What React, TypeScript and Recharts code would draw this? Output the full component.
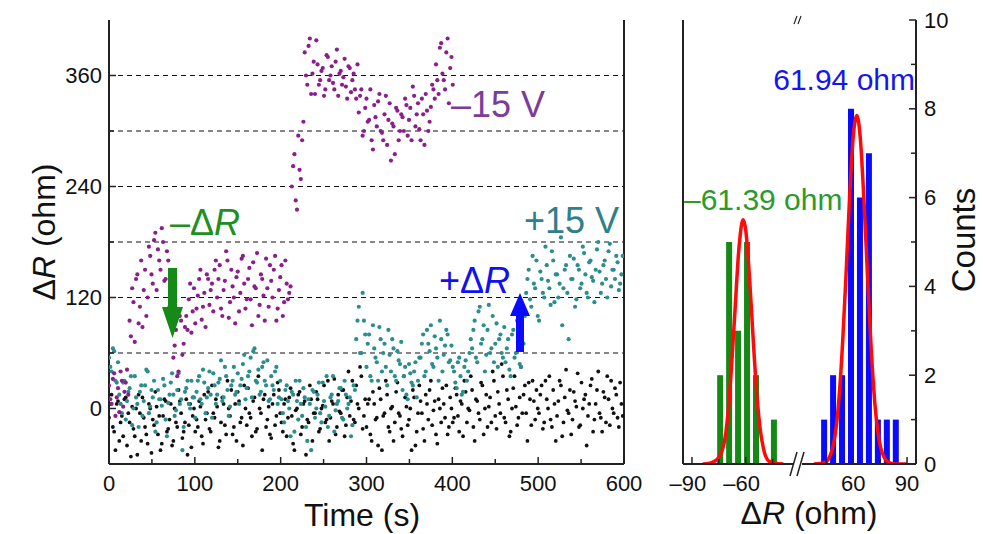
import React from "react";
import {
  Bar,
  Cell,
  ComposedChart,
  Line,
  ReferenceLine,
  Scatter,
  XAxis,
  YAxis,
} from "recharts";

const FONT = '"Liberation Sans", Arial, Helvetica, sans-serif';

// time series, one reading every STEP seconds; the *2 arrays are the readings in between
const STEP = 3;

// -15 V run (0 .. 400 s)
const purpleVals = [
  25, 5, 38, 12, -4, 30, 18, 42,
  95, 130, 72, 145, 110, 88, 150, 120,
  165, 135, 190, 172, 150, 180, 140, 160, 118,
  55, 85, 40, 95, 70,
  100, 118, 82, 130, 108, 140, 96, 125, 145, 112, 135, 150,
  120, 155, 100, 138, 160, 115, 132, 92, 148, 125, 165, 108, 140, 118, 158, 130, 100, 145, 122, 162, 110, 138, 150, 95, 128, 155, 115, 135, 125,
  240, 275, 215, 258, 290,
  385, 350, 400, 362, 340, 372, 355, 368, 345, 380, 360, 352, 375, 338, 365, 358, 348, 370, 342, 362, 335,
  320, 345, 300, 335, 312, 290, 328, 305, 340, 298, 318, 285, 330, 308, 275, 322, 300,
  315, 335, 295, 325, 348, 305, 330, 290, 318, 340, 300, 326, 345,
  372, 340, 395, 355, 385, 330, 380,
];
const purpleVals2 = [
  10, 32, -8, 22, 40, 2, 28, 15,
  78, 115, 140, 92, 160, 128, 100, 175,
  145, 182, 128, 160, 195, 138, 170, 110, 92,
  68, 35, 100, 58, 88,
  85, 135, 105, 92, 122, 150, 110, 88, 140, 128, 105, 160,
  140, 108, 128, 170, 98, 150, 120, 142, 105, 162, 135, 118, 152, 90, 132, 168, 112, 140, 95, 130, 155, 120, 165, 108, 142, 100, 160, 118, 132,
  262, 225, 295, 248, 310,
  360, 392, 340, 375, 398, 350, 365, 338, 382, 355, 370, 345, 388, 362, 350, 378, 335, 368, 355, 345, 372,
  338, 295, 325, 310, 345, 280, 315, 332, 300, 290, 338, 312, 268, 305, 325, 290, 318,
  300, 328, 312, 290, 338, 318, 302, 335, 285, 322, 310, 350, 335,
  355, 390, 362, 345, 400, 368, 350,
];

// +15 V run (0 .. 600 s)
const tealVals = [
  55, 40, 62, 28,
  15, -5, 30, 8, 22, -18, 35, 5, 18, -8, 25, 40, 2, 12, -25, 20, 10, 32, -12, 6, 28, 15, -2, 38, 10, -20, 22, 5, 30, 12,
  18, 35, 5, 28, 12, 40, -10, 25, 15, 32, 8, 45, 20, 2, 30, 15, 38, 25, 48, 10, 35, 55, 62, 30, 42, 18, 50, 25, 8, 35, 20, 45, 12,
  10, -15, 25, 0, 18, -25, 8, 30, -8, 12, -35, 5, 20, -10, 15, -5, 28, 2, -20, 12, 35, -2, 8, 22, -12, 15, 5, -30, 25,
  75, 110, 60, 95,
  45, 80, 30, 65, 50, 88, 40, 70, 25, 58, 75, 35, 62, 48,
  20, 45, 10, 38, 25, 50, 30,
  55, 80, 40, 70, 90, 45, 65, 30, 75, 58, 85, 50, 68,
  40, 22, 55, 15, 45, 30, 60,
  65, 95, 50, 110, 75, 40, 85, 60, 100, 70, 45, 80, 55,
  50, 75, 35, 85, 60, 90, 45, 70,
  125, 150, 110, 135, 160, 95, 140, 120, 155, 130, 170, 115, 145, 135, 90, 150, 125, 165, 140, 110, 155, 130, 175, 145, 120, 160, 138, 150, 180, 125, 155, 140, 170, 132, 150, 165, 128, 145,
];
const tealVals2 = [
  45, 65, 30, 50,
  5, 28, -12, 18, 35, 0, 12, -20, 25, 8, 42, -5, 20, 30, -15, 10, 3, 25, -30, 15, 38, -8, 20, 5, -45, 18, 30, 0, 12, -10,
  30, 10, 42, -5, 22, 15, 38, 5, 28, 52, 12, 35, -8, 25, 45, 18, 5, 32, 58, 22, 40, 12, 65, 28, 15, 45, 30, 52, 10, 25, 40, 5, 30,
  -5, 20, 8, -30, 15, 30, -12, 5, 22, -20, 10, -45, 18, 0, 28, -15, 8, 35, -8, 15, -25, 5, 22, -10, 30, 0, 12, -18, 20,
  95, 60, 125, 80,
  70, 35, 90, 55, 30, 75, 60, 45, 85, 40, 65, 30, 52, 72,
  35, 15, 48, 28, 40, 12, 55,
  70, 35, 85, 62, 48, 78, 55, 95, 40, 68, 80, 52, 45,
  28, 50, 35, 18, 52, 40, 75,
  85, 55, 105, 70, 90, 58, 112, 65, 50, 92, 75, 60, 88,
  65, 42, 80, 55, 95, 48, 72, 100,
  140, 118, 165, 130, 100, 148, 125, 175, 138, 112, 160, 145, 120, 185, 130, 155, 75, 140, 162, 118, 150, 135, 168, 125, 158, 142, 115, 172, 148, 135, 160, 120, 178, 150, 140, 158, 135, 165,
];

// 0 V reference run (0 .. 600 s)
const blackVals = [
  -10, 15, -25, 5, -35, -8, 10, -40, -15, 2, -30, -50, -5, 12, -20, -38, 0, -12, 18, -28, -45, -8, 8, -22, 5, -35, -15, 20, -5, -25, 10, -18, -42, 0,
  -12, 8, -30, 15, -5, -22, 25, -10, 2, -35, 12, -18, 30, -8, -28, 5, 18, -15, -40, 0, 22, -10, 8, -25, 35, -5, 10, -20, 2, -32, 15, -8, 20,
  -15, 5, -30, 12, -8, -45, 0, 18, -20, 8, -12, 25, -35, -5, 10, -22, 3, -15, 30, -10, 5, -28, 15, -5, 20, -18, 40, 8, -12, 25, 0, 35, -8,
  -20, 10, -35, 5, -10, 22, -45, -5, 15, -25, 2, -15, 28, -8, -30, 12, -18, 0, 20, -40, -5, 8, -22, 15, -12, 30, -2, -28, 10, -15, 5, 25, -20, 0,
  -10, 15, -25, 5, 30, -15, -2, 20, -35, 8, -12, 25, 0, -20, 12, 40, -8, 18, -5, 35, -15, 10, -25, 22, 2, -10, 45, 15, -5, 28, -18, 8, 20,
  -5, 25, -15, 10, 35, -20, 5, -8, 30, -30, 12, -2, 20, -12, 8, 38, -18, 0, 15, -8, 25, -25, 5, 40, -10, 18, -15, 10, 30, -5, 15, -20, 5,
];
const blackVals2 = [
  5, -20, -45, 8, -15, -30, 12, -5, -52, -22, 0, 15, -35, -10, -28, 5, -48, -18, 2, -8, -38, 10, -25, -12, -40, 0, -20, 8, -32, -15, -50, 5, -8, -25,
  -20, 2, -38, -12, 18, -25, -5, 10, -42, -15, 5, -28, 0, 20, -20, -35, 8, -10, 25, -18, -5, -30, 12, -22, 0, -45, 15, -12, -28, 5, -18, 28, -5,
  -25, 10, -10, 22, -38, -2, 15, -28, 5, -50, -15, 10, -5, 18, -25, 0, 25, -12, -35, 8, 32, -20, -3, 20, -30, 12, -8, 30, -15, 5, 45, -22, 10,
  5, -28, 18, -12, -40, 10, -8, 30, -20, 0, -35, 18, -5, -22, 35, 2, -12, -45, 12, -25, 25, -5, -35, 5, 20, -18, 8, -38, 0, 22, -10, -28, 12, -15,
  22, -8, 8, -30, 18, 0, 35, -20, 10, -5, 28, -28, 15, 2, -15, 30, -22, 5, 48, -10, 20, -30, 0, 35, -18, 12, -5, 25, -35, 10, 30, -12, 0,
  15, -22, 30, 0, -12, 20, -35, 8, 25, -15, 42, -5, -28, 18, 2, -20, 28, 10, -40, 5, 32, -12, 20, -5, -25, 12, 35, -18, 0, 22, -10, 28, -8,
];

const timeTicks = [0, 50, 100, 150, 200, 250, 300, 350, 400, 450, 500, 550, 600];
const timeLabels = [0, 100, 200, 300, 400, 500, 600];
const ohmTicks = [0, 60, 120, 180, 240, 300, 360];
const ohmLabels = [0, 120, 240, 360];
const gridLevels = [60, 120, 180, 240, 300, 360];

// histogram (bin centres in ohm)
const greenBins = [-74, -69, -64, -59, -54, -44];
const greenCounts = [2, 5, 3, 5, 2, 1];
const blueBins = [44, 49, 54, 59, 64, 69, 74, 79, 84];
const blueCounts = [1, 2, 2, 8, 6, 7, 1, 1, 1];

// gaussian fits
const greenFitX = [-84, -80, -76, -72, -70, -68, -66, -64, -62, -61.4, -60, -58, -56, -54, -52, -50, -47, -43, -39];
const greenFitY = [0, 0.02, 0.1, 0.48, 1.1, 2.15, 3.45, 4.75, 5.45, 5.5, 5.27, 4.27, 2.92, 1.67, 0.81, 0.33, 0.06, 0.01, 0];
const blueFitX = [38, 44, 48, 50, 52, 54, 56, 58, 60, 62, 64, 66, 68, 70, 72, 74, 76, 80, 84, 90];
const blueFitY = [0, 0.03, 0.29, 0.69, 1.46, 2.69, 4.3, 6.05, 7.38, 7.85, 7.3, 5.9, 4.2, 2.6, 1.39, 0.65, 0.27, 0.03, 0, 0];

const histTicks = [-90, -75, -60, -45, 45, 60, 75, 90];
const histLabels = [-90, -60, 60, 90];
const countTicks = [0, 1, 2, 3, 4, 5, 6, 7, 8, 9, 10];
const countLabels = [0, 2, 4, 6, 8, 10];

// broken axis: the positive side is pulled left by this much
const BREAK_SHIFT = 60;
const toAxis = (v: number) => (v > 0 ? v - BREAK_SHIFT : v);

const series = (a: number[], b: number[]) => [
  ...a.map((v, i) => ({ t: i * STEP, v })),
  ...b.map((v, i) => ({ t: i * STEP + STEP / 2, v })),
];
const purpleData = series(purpleVals, purpleVals2);
const tealData = series(tealVals, tealVals2);
const blackData = series(blackVals, blackVals2);

const histTable = [
  ...greenBins.map((b, i) => ({ x: toAxis(b), count: greenCounts[i], group: "g" })),
  ...blueBins.map((b, i) => ({ x: toAxis(b), count: blueCounts[i], group: "b" })),
];
const greenFit = greenFitX.map((x, i) => ({ x: toAxis(x), y: greenFitY[i] }));
const blueFit = blueFitX.map((x, i) => ({ x: toAxis(x), y: blueFitY[i] }));

const AXIS = "#222";
const fmt = (v: number) => (v < 0 ? `–${Math.abs(v)}` : `${v}`);

const bottomTick = (labels: number[], remap?: (v: number) => number) => (props: any) => {
  const { x, y, payload } = props;
  const real = remap ? remap(payload.value) : payload.value;
  const show = labels.includes(real);
  return (
    <g>
      <line x1={x} x2={x} y1={y} y2={y - (show ? 7 : 5)} stroke={AXIS} strokeWidth={1.5} />
      {show && (
        <text x={x + (real < 0 ? -4 : 0)} y={y + 19} textAnchor="middle" dominantBaseline="central" fontSize={22} fontFamily={FONT} fill="#111">
          {fmt(real)}
        </text>
      )}
    </g>
  );
};

const topTick = (props: any) => {
  const { x, y } = props;
  return <line x1={x} x2={x} y1={y} y2={y + 6} stroke={AXIS} strokeWidth={1.5} />;
};

const leftTick = (labels: number[]) => (props: any) => {
  const { x, y, payload } = props;
  const show = labels.includes(payload.value);
  return (
    <g>
      <line x1={x} x2={x + (show ? 7 : 5)} y1={y} y2={y} stroke={AXIS} strokeWidth={1.5} />
      {show && (
        <text x={x - 7} y={y} textAnchor="end" dominantBaseline="central" fontSize={22} fontFamily={FONT} fill="#111">
          {payload.value}
        </text>
      )}
    </g>
  );
};

const rightTick = (labels: number[]) => (props: any) => {
  const { x, y, payload } = props;
  const show = labels.includes(payload.value);
  return (
    <g>
      <line x1={x} x2={x - (show ? 7 : 5)} y1={y} y2={y} stroke={AXIS} strokeWidth={1.5} />
      {show && (
        <text x={x + 8} y={y} textAnchor="start" dominantBaseline="central" fontSize={22} fontFamily={FONT} fill="#111">
          {payload.value}
        </text>
      )}
    </g>
  );
};

const dot = (fill: string, r: number) => (props: any) => <circle cx={props.cx} cy={props.cy} r={r} fill={fill} />;

function TimeTrace() {
  return (
    <ComposedChart width={660} height={534} margin={{ top: 20, right: 0, bottom: 0, left: 0 }}>
      <XAxis xAxisId="b" dataKey="t" type="number" domain={[0, 600]} ticks={timeTicks} interval={0}
        allowDataOverflow height={70} tickSize={0} tickMargin={0} tickLine={false}
        axisLine={{ stroke: AXIS, strokeWidth: 2 }} tick={bottomTick(timeLabels)} />
      <XAxis xAxisId="t" orientation="top" type="number" domain={[0, 600]} ticks={timeTicks} interval={0}
        height={0} tickSize={0} tickMargin={0} tickLine={false}
        axisLine={{ stroke: AXIS, strokeWidth: 2 }} tick={topTick} />
      <YAxis yAxisId="l" dataKey="v" type="number" domain={[-60, 420]} ticks={ohmTicks} interval={0}
        allowDataOverflow width={109} tickSize={0} tickMargin={0} tickLine={false}
        axisLine={{ stroke: AXIS, strokeWidth: 2 }} tick={leftTick(ohmLabels)} />
      <YAxis yAxisId="r" orientation="right" type="number" domain={[-60, 420]} ticks={ohmTicks} interval={0}
        width={36} tickSize={0} tickMargin={0} tickLine={false}
        axisLine={{ stroke: AXIS, strokeWidth: 2 }} tick={rightTick([])} />
      {gridLevels.map((g) => (
        <ReferenceLine key={g} xAxisId="b" yAxisId="l" y={g} stroke="#111" strokeWidth={1.2} strokeDasharray="5 4" />
      ))}
      <Scatter xAxisId="b" yAxisId="l" data={blackData} fill="#111" shape={dot("#111", 1.9)} isAnimationActive={false} />
      <Scatter xAxisId="b" yAxisId="l" data={tealData} fill="#2b8d8d" shape={dot("#2b8d8d", 2.1)} isAnimationActive={false} />
      <Scatter xAxisId="b" yAxisId="l" data={purpleData} fill="#8a1f8c" shape={dot("#8a1f8c", 2.1)} isAnimationActive={false} />
    </ComposedChart>
  );
}

function Histogram() {
  const remap = (v: number) => (v > -30 ? v + BREAK_SHIFT : v);
  return (
    <ComposedChart width={343} height={534} data={histTable} margin={{ top: 20, right: 0, bottom: 0, left: 0 }}>
      <XAxis xAxisId="b" dataKey="x" type="number" domain={[-95, 35]} ticks={histTicks.map(toAxis)} interval={0}
        allowDataOverflow height={70} tickSize={0} tickMargin={0} tickLine={false}
        axisLine={{ stroke: AXIS, strokeWidth: 2 }} tick={bottomTick(histLabels, remap)} />
      <XAxis xAxisId="t" orientation="top" type="number" domain={[-95, 35]} ticks={[...histTicks.map(toAxis), -30]} interval={0}
        height={0} tickSize={0} tickMargin={0} tickLine={false}
        axisLine={{ stroke: AXIS, strokeWidth: 2 }} tick={topTick} />
      <XAxis xAxisId="f" dataKey="x" type="number" domain={[-95, 35]} allowDataOverflow hide />
      <YAxis yAxisId="l" type="number" domain={[0, 10]} ticks={countTicks} interval={0}
        width={43} tickSize={0} tickMargin={0} tickLine={false}
        axisLine={{ stroke: AXIS, strokeWidth: 2 }} tick={leftTick([])} />
      <YAxis yAxisId="r" orientation="right" type="number" domain={[0, 10]} ticks={countTicks} interval={0}
        allowDataOverflow width={67} tickSize={0} tickMargin={0} tickLine={false}
        axisLine={{ stroke: AXIS, strokeWidth: 2 }} tick={rightTick(countLabels)} />
      <Bar xAxisId="b" yAxisId="r" dataKey="count" barSize={6} isAnimationActive={false}>
        {histTable.map((d, i) => (
          <Cell key={i} fill={d.group === "g" ? "#168816" : "#0a0aff"} />
        ))}
      </Bar>
      <Line xAxisId="f" yAxisId="r" data={greenFit} dataKey="y" type="monotone" stroke="#ff0a0a" strokeWidth={3.5}
        dot={false} isAnimationActive={false} />
      <Line xAxisId="f" yAxisId="r" data={blueFit} dataKey="y" type="monotone" stroke="#ff0a0a" strokeWidth={3.5}
        dot={false} isAnimationActive={false} />
    </ComposedChart>
  );
}

function Overlay() {
  const big = { fontFamily: FONT, fontSize: 36 } as const;
  const mid = { fontFamily: FONT, fontSize: 30 } as const;
  const title = { fontFamily: FONT, fontSize: 32, fill: "#111" } as const;
  return (
    <svg width={983} height={534} style={{ position: "absolute", left: 0, top: 0, pointerEvents: "none" }}>
      {/* annotations on the time trace */}
      <text x={451} y={117} fill="#7a3d9a" {...big}>–15 V</text>
      <text x={524} y={233} fill="#2f8088" {...big}>+15 V</text>
      <text x={170} y={235} fill="#1f8f1f" {...big}>–Δ<tspan fontStyle="italic">R</tspan></text>
      <text x={439} y={293} fill="#1010f0" {...big}>+Δ<tspan fontStyle="italic">R</tspan></text>
      <polygon points="168,268 177,268 177,307 183,307 172.5,338 162,307 168,307" fill="#168a16" />
      <polygon points="516,352 524,352 524,316 530,316 520,293 510,316 516,316" fill="#0a0aff" />

      {/* histogram labels */}
      <text x={915} y={90} textAnchor="end" fill="#1515f0" {...mid}>61.94 ohm</text>
      <text x={684} y={210} fill="#2a9a2a" {...mid}>–61.39 ohm</text>

      {/* axis break marks */}
      <rect x={794} y={452} width={8} height={22} fill="#fff" />
      <line x1={790} y1={476} x2={797} y2={452} stroke={AXIS} strokeWidth={1.5} />
      <line x1={797} y1={476} x2={804} y2={452} stroke={AXIS} strokeWidth={1.5} />
      <rect x={795} y={17} width={5} height={7} fill="#fff" />
      <line x1={794} y1={24} x2={797} y2={16} stroke={AXIS} strokeWidth={1.2} />
      <line x1={798} y1={24} x2={801} y2={16} stroke={AXIS} strokeWidth={1.2} />

      {/* axis titles */}
      <text x={362} y={526} textAnchor="middle" {...title} fontSize={32}>Time (s)</text>
      <text x={44} y={232} textAnchor="middle" dominantBaseline="central" transform="rotate(-90 44 232)" {...title}>
        Δ<tspan fontStyle="italic">R</tspan> (ohm)
      </text>
      <text x={809} y={524} textAnchor="middle" {...title}>
        Δ<tspan fontStyle="italic">R</tspan> (ohm)
      </text>
      <text x={963} y={240} textAnchor="middle" dominantBaseline="central" transform="rotate(-90 963 240)" {...title} fontSize={33}>
        Counts
      </text>
    </svg>
  );
}

export default function App() {
  return (
    <div style={{ position: "absolute", left: 0, top: 0, width: 983, height: 534, background: "#fff", fontFamily: FONT }}>
      <div style={{ position: "absolute", left: 0, top: 0 }}>
        <TimeTrace />
      </div>
      <div style={{ position: "absolute", left: 640, top: 0 }}>
        <Histogram />
      </div>
      <Overlay />
    </div>
  );
}
